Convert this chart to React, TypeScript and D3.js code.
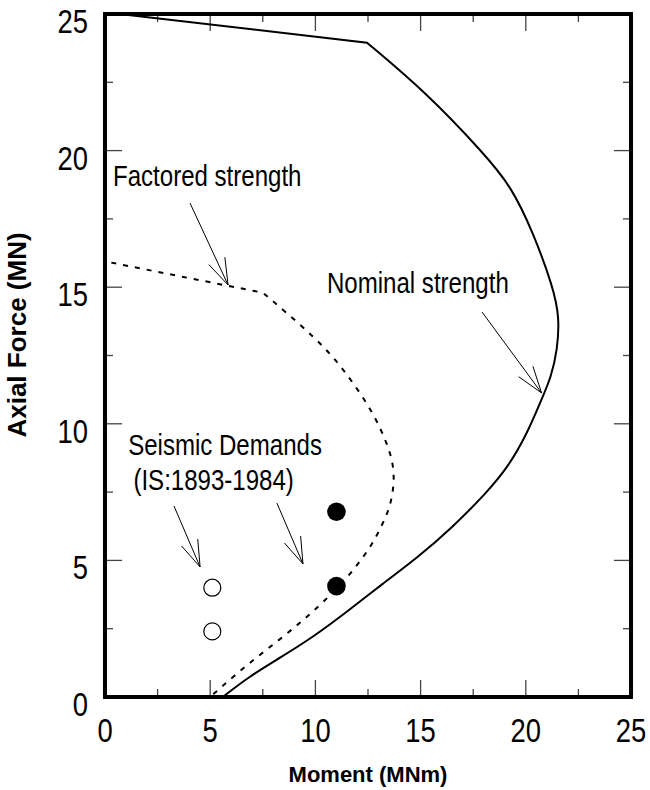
import { useRef, useEffect } from 'react';
import * as d3 from 'd3';

// moment (MNm), axial force (MN)
const nominalM = [0.7, 12.45, 15.3, 18.0, 19.3, 20.35, 21.3, 21.6, 21.5, 21.2, 20.75, 20.1, 19.15, 18.1, 16.5, 14.85, 13.2, 11.55, 9.9, 8.35, 6.85, 5.6];
const nominalP = [25.0, 23.95, 22.1, 19.9, 18.7, 17.0, 15.0, 13.9, 12.7, 11.7, 10.9, 9.7, 8.4, 7.45, 6.2, 5.1, 4.15, 3.15, 2.2, 1.45, 0.75, 0];

const factoredM = [0.3, 5.85, 7.5, 8.65, 9.9, 10.85, 11.8, 12.75, 13.4, 13.7, 13.75, 13.55, 13.2, 12.75, 12.25, 11.5, 10.35, 9.4, 8.3, 7.2, 6.1, 5.0];
const factoredP = [15.9, 15.05, 14.8, 14.05, 13.2, 12.45, 11.5, 10.4, 9.3, 8.55, 7.8, 6.95, 6.35, 5.65, 5.1, 4.35, 3.45, 2.8, 2.1, 1.45, 0.75, 0];

const demandOpen = [[5.1, 4.0], [5.1, 2.4]];
const demandFilled = [[11.0, 6.78], [11.0, 4.06]];

const majorTicks = [0, 5, 10, 15, 20, 25];
const minorTicks = [2.5, 7.5, 12.5, 17.5, 22.5];

const labels = [
  { text: 'Factored strength', m: 0.38, p: 18.7 },
  { text: 'Nominal strength', m: 10.55, p: 14.8 },
  { text: 'Seismic Demands', m: 1.1, p: 8.85 },
  { text: '(IS:1893-1984)', m: 1.35, p: 7.57 },
];

const arrows = [
  { from: [4.04, 18.08], to: [5.85, 15.08] },
  { from: [17.92, 14.09], to: [20.75, 11.13] },
  { from: [3.28, 6.99], to: [4.52, 4.76] },
  { from: [8.17, 7.1], to: [9.41, 4.87] },
];

const FONT = '"Liberation Sans", Arial, sans-serif';
const NARROW = 0.83; // no Arial Narrow here, squeeze Liberation Sans instead

export default function App() {
  const svgRef = useRef(null);

  useEffect(() => {
    const svg = d3.select(svgRef.current);
    svg.selectAll('*').remove();

    const x = d3.scaleLinear().domain([0, 25]).range([105, 631]);
    const y = d3.scaleLinear().domain([0, 25]).range([697, 14]);
    const [x0, x1] = x.range();
    const [y0, y1] = y.range();

    const g = svg.append('g');

    const narrowText = (sel, tx, ty, size) =>
      sel
        .attr('transform', (d) => `translate(${tx(d)},${ty(d)}) scale(${NARROW},1)`)
        .attr('font-family', FONT)
        .attr('font-size', size)
        .attr('fill', '#000');

    // ticks on all four sides, pointing in
    const tickLen = (v) => (majorTicks.includes(v) ? 17 : 8);
    const all = [...majorTicks, ...minorTicks].filter((v) => v > 0 && v < 25);
    const tg = g.append('g').attr('stroke', '#444').attr('stroke-width', 1.3);
    all.forEach((v) => {
      const l = tickLen(v);
      tg.append('line').attr('x1', x(v)).attr('x2', x(v)).attr('y1', y0).attr('y2', y0 - l);
      tg.append('line').attr('x1', x(v)).attr('x2', x(v)).attr('y1', y1).attr('y2', y1 + l);
      tg.append('line').attr('x1', x0).attr('x2', x0 + l).attr('y1', y(v)).attr('y2', y(v));
      tg.append('line').attr('x1', x1).attr('x2', x1 - l).attr('y1', y(v)).attr('y2', y(v));
    });

    // curves: straight cap segments, smooth body
    const straight = d3
      .line()
      .x((d) => x(d[0]))
      .y((d) => y(d[1]));
    const smooth = d3
      .line()
      .x((d) => x(d[0]))
      .y((d) => y(d[1]))
      .curve(d3.curveBasis);

    const nominal = nominalM.map((m, i) => [m, nominalP[i]]);
    const factored = factoredM.map((m, i) => [m, factoredP[i]]);

    const drawCurve = (pts, split, dash) => {
      const d = straight(pts.slice(0, split + 1)) + smooth(pts.slice(split)).replace(/^M[^LC]*/, '');
      g.append('path')
        .attr('d', d)
        .attr('fill', 'none')
        .attr('stroke', '#000')
        .attr('stroke-width', 2)
        .attr('stroke-dasharray', dash);
    };
    drawCurve(nominal, 1, null);
    drawCurve(factored, 2, '5,7');

    // demand points
    g.selectAll('.open')
      .data(demandOpen)
      .enter()
      .append('circle')
      .attr('cx', (d) => x(d[0]))
      .attr('cy', (d) => y(d[1]))
      .attr('r', 8.5)
      .attr('fill', '#fff')
      .attr('stroke', '#000')
      .attr('stroke-width', 1.2);

    g.selectAll('.filled')
      .data(demandFilled)
      .enter()
      .append('circle')
      .attr('cx', (d) => x(d[0]))
      .attr('cy', (d) => y(d[1]))
      .attr('r', 9.3)
      .attr('fill', '#000');

    // annotation arrows
    const ag = g.append('g').attr('stroke', '#000').attr('stroke-width', 1).attr('fill', 'none');
    arrows.forEach(({ from, to }) => {
      const fx = x(from[0]);
      const fy = y(from[1]);
      const tx = x(to[0]);
      const ty = y(to[1]);
      ag.append('line').attr('x1', fx).attr('y1', fy).attr('x2', tx).attr('y2', ty);
      const ang = Math.atan2(fy - ty, fx - tx);
      const barb = 28;
      [-0.32, 0.32].forEach((da) => {
        ag.append('line')
          .attr('x1', tx)
          .attr('y1', ty)
          .attr('x2', tx + barb * Math.cos(ang + da))
          .attr('y2', ty + barb * Math.sin(ang + da));
      });
    });

    g.selectAll('.note')
      .data(labels)
      .enter()
      .append('text')
      .call(narrowText, (d) => x(d.m), (d) => y(d.p), 29)
      .text((d) => d.text);

    // frame
    g.append('rect')
      .attr('x', x0)
      .attr('y', y1)
      .attr('width', x1 - x0)
      .attr('height', y0 - y1)
      .attr('fill', 'none')
      .attr('stroke', '#000')
      .attr('stroke-width', 4);

    // tick labels
    g.selectAll('.ylab')
      .data(majorTicks)
      .enter()
      .append('text')
      .call(narrowText, () => 88, (d) => y(d) + 19, 33)
      .attr('text-anchor', 'end')
      .text((d) => d);

    g.selectAll('.xlab')
      .data(majorTicks)
      .enter()
      .append('text')
      .call(narrowText, (d) => x(d), () => 742, 33)
      .attr('text-anchor', 'middle')
      .text((d) => d);

    // axis titles
    g.append('text')
      .attr('transform', 'translate(26, 335) rotate(-90)')
      .attr('text-anchor', 'middle')
      .attr('font-family', FONT)
      .attr('font-weight', 'bold')
      .attr('font-size', 26)
      .text('Axial Force (MN)');

    g.append('text')
      .attr('x', (x0 + x1) / 2)
      .attr('y', 782)
      .attr('text-anchor', 'middle')
      .attr('font-family', FONT)
      .attr('font-weight', 'bold')
      .attr('font-size', 22)
      .text('Moment (MNm)');

    return () => {
      svg.selectAll('*').remove();
    };
  }, []);

  return (
    <svg
      ref={svgRef}
      width={650}
      height={790}
      style={{ position: 'absolute', left: 0, top: 0, background: '#fff' }}
    />
  );
}
